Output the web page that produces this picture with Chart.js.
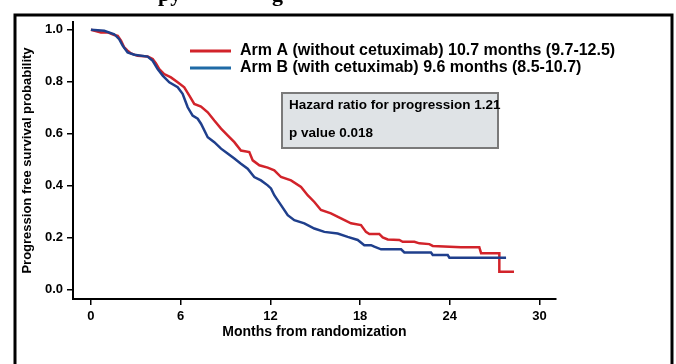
<!DOCTYPE html>
<html>
<head>
<meta charset="utf-8">
<script src="https://cdn.jsdelivr.net/npm/chart.js@4"></script>
<style>
  html, body { margin: 0; padding: 0; background: #fff; }
</style>
</head>
<body>
<canvas id="myChart" width="676" height="364"></canvas>
<script>
// Kaplan-Meier curves (months, survival)
var armATime = [0, 0.67, 1.12, 1.56, 1.79, 2.01, 2.23, 2.45, 2.68, 3.12, 3.79, 4.13, 4.35, 4.57, 4.90, 5.35, 5.80, 6.24, 6.58, 6.91,
	7.36, 7.81, 8.25, 8.70, 9.14, 9.59, 10.03, 10.59, 10.82, 11.26, 11.82, 12.26, 12.71, 13.38, 14.05, 14.49, 14.94, 15.38, 16.05, 16.72,
	17.39, 18.06, 18.39, 18.62, 19.28, 19.51, 19.85, 20.62, 20.85, 21.63, 21.96, 22.63, 22.86, 24.75, 25.97, 26.09, 27.31, 27.31, 28.29];
var armASurv = [1.0, 0.99, 0.99, 0.98, 0.977, 0.958, 0.932, 0.92, 0.909, 0.90, 0.897, 0.888, 0.871, 0.849, 0.83, 0.817, 0.798, 0.779, 0.747, 0.715,
	0.705, 0.683, 0.651, 0.62, 0.594, 0.568, 0.536, 0.53, 0.498, 0.479, 0.47, 0.46, 0.434, 0.421, 0.396, 0.364, 0.338, 0.307, 0.294, 0.275,
	0.256, 0.249, 0.223, 0.215, 0.215, 0.202, 0.194, 0.192, 0.185, 0.185, 0.179, 0.176, 0.169, 0.164, 0.164, 0.141, 0.141, 0.07, 0.07];

var armBTime = [0, 0.89, 1.56, 1.89, 2.12, 2.45, 2.90, 3.79, 4.13, 4.46, 4.80, 5.24, 5.80, 6.13, 6.47, 6.80, 7.14, 7.36, 7.81, 8.25,
	8.70, 9.14, 9.59, 10.03, 10.48, 10.92, 11.37, 11.82, 12.04, 12.26, 12.71, 13.16, 13.60, 14.27, 14.94, 15.61, 16.50, 17.17, 17.84, 18.28,
	18.73, 18.95, 19.40, 20.74, 20.96, 22.74, 22.86, 23.86, 23.97, 27.76];
var armBSurv = [1.0, 0.996, 0.983, 0.964, 0.939, 0.913, 0.904, 0.897, 0.881, 0.849, 0.824, 0.798, 0.779, 0.754, 0.702, 0.67, 0.658, 0.639, 0.587, 0.568,
	0.543, 0.524, 0.505, 0.485, 0.466, 0.434, 0.421, 0.402, 0.39, 0.364, 0.326, 0.287, 0.268, 0.256, 0.236, 0.223, 0.217, 0.204, 0.192, 0.172,
	0.172, 0.166, 0.156, 0.156, 0.144, 0.144, 0.134, 0.134, 0.124, 0.124];

var xTicks = [0, 6, 12, 18, 24, 30];
var yTicks = [0, 0.2, 0.4, 0.6, 0.8, 1.0];

var legendLabels = ["Arm A (without cetuximab) 10.7 months (9.7-12.5)", "Arm B (with cetuximab) 9.6 months (8.5-10.7)"];
var statLines = ["Hazard ratio for progression 1.21", "p value 0.018"];

var RED = "#d2232a";
var NAVY = "#1f3f8c";
var LEGEND_BLUE = "#1f6aa6";
var FONT = "'Liberation Sans', Arial, sans-serif";

function toPoints(t, s) {
	return t.map(function (v, i) { return { x: v, y: s[i] }; });
}

var extras = {
	id: "extras",
	afterDraw: function (chart) {
		var ctx = chart.ctx;
		ctx.save();

		// cut-off title descenders at the very top
		ctx.fillStyle = "#000";
		ctx.font = "bold 22px 'Liberation Serif', 'Times New Roman', serif";
		ctx.textBaseline = "alphabetic";
		ctx.fillText("py", 158, 1);
		ctx.fillText("g", 272, 1);

		// outer frame
		ctx.strokeStyle = "#000";
		ctx.lineWidth = 3;
		ctx.strokeRect(15, 15, 657, 360);

		// legend
		ctx.lineWidth = 3;
		ctx.strokeStyle = RED;
		ctx.beginPath(); ctx.moveTo(190, 51); ctx.lineTo(231, 51); ctx.stroke();
		ctx.strokeStyle = LEGEND_BLUE;
		ctx.beginPath(); ctx.moveTo(190, 68); ctx.lineTo(231, 68); ctx.stroke();
		ctx.fillStyle = "#000";
		ctx.font = "bold 16px " + FONT;
		ctx.textBaseline = "middle";
		ctx.fillText(legendLabels[0], 240, 51);
		ctx.fillText(legendLabels[1], 240, 68);

		// stats box
		ctx.fillStyle = "#dfe3e6";
		ctx.fillRect(282, 93, 216, 55);
		ctx.strokeStyle = "#7a7a7a";
		ctx.lineWidth = 2;
		ctx.strokeRect(282, 93, 216, 55);
		ctx.fillStyle = "#000";
		ctx.font = "bold 13.5px " + FONT;
		ctx.textBaseline = "middle";
		ctx.fillText(statLines[0], 289, 105);
		ctx.fillText(statLines[1], 289, 133);

		ctx.restore();
	}
};

var ctx = document.getElementById("myChart").getContext("2d");

var myChart = new Chart(ctx, {
	type: "line",
	data: {
		datasets: [
			{
				label: legendLabels[1],
				data: toPoints(armBTime, armBSurv),
				borderColor: NAVY,
				borderWidth: 2.5,
				pointRadius: 0,
				tension: 0,
				fill: false
			},
			{
				label: legendLabels[0],
				data: toPoints(armATime, armASurv),
				borderColor: RED,
				borderWidth: 2.5,
				pointRadius: 0,
				tension: 0,
				fill: false
			}
		]
	},
	options: {
		responsive: false,
		animation: false,
		layout: { padding: { left: 0, top: 22, right: 120, bottom: 0 } },
		plugins: {
			legend: { display: false },
			tooltip: { enabled: false }
		},
		scales: {
			x: {
				type: "linear",
				min: -1.2,
				max: 31.1,
				afterBuildTicks: function (s) { s.ticks = xTicks.map(function (v) { return { value: v }; }); },
				afterFit: function (s) { s.height = 65; },
				grid: { drawOnChartArea: false, drawTicks: true, tickLength: 6, color: "#000", lineWidth: 1.5 },
				border: { display: true, color: "#000", width: 2 },
				ticks: {
					color: "#000",
					padding: 4,
					maxRotation: 0,
					font: { family: FONT, weight: "bold", size: 13 },
					callback: function (v) { return v; }
				},
				title: {
					display: true,
					text: "Months from randomization",
					color: "#000",
					font: { family: FONT, weight: "bold", size: 14 },
					padding: { top: 0, bottom: 23 }
				}
			},
			y: {
				min: -0.035,
				max: 1.03,
				afterBuildTicks: function (s) { s.ticks = yTicks.map(function (v) { return { value: v }; }); },
				afterFit: function (s) { s.width = 73; },
				grid: { drawOnChartArea: false, drawTicks: true, tickLength: 6, color: "#000", lineWidth: 1.5 },
				border: { display: true, color: "#000", width: 2 },
				ticks: {
					color: "#000",
					padding: 4,
					font: { family: FONT, weight: "bold", size: 13 },
					callback: function (v) { return v.toFixed(1); }
				},
				title: {
					display: true,
					text: "Progression free survival probability",
					color: "#000",
					font: { family: FONT, weight: "bold", size: 13 },
					padding: { top: 20, bottom: 0 }
				}
			}
		}
	},
	plugins: [extras]
});
</script>
</body>
</html>
